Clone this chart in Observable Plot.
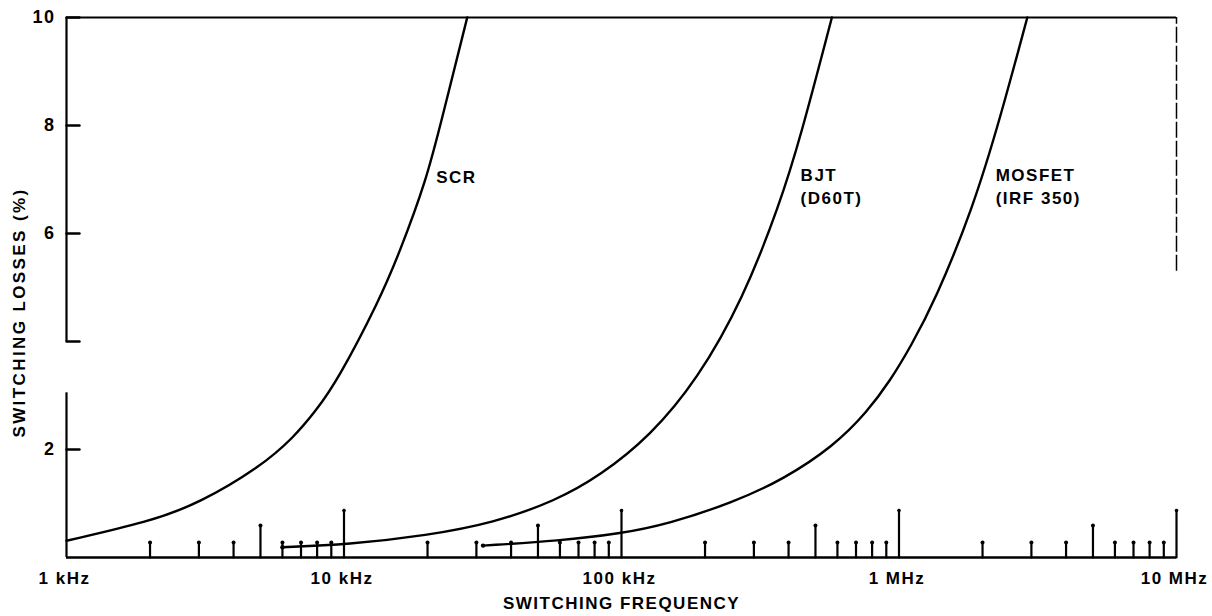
<!DOCTYPE html>
<html>
<head>
<meta charset="utf-8">
<script src="https://cdn.jsdelivr.net/npm/d3@7"></script>
<script src="https://cdn.jsdelivr.net/npm/@observablehq/plot@0.6"></script>
<style>
  html, body { margin: 0; padding: 0; background: #fff; }
  .ytitle text { letter-spacing: 2.4px; }
</style>
</head>
<body>
<div id="chart"></div>
<script>
// ---- data ----
const scrFreq = [1000, 1980, 3000, 5000, 6580, 7930, 9480, 13400, 15800, 19800, 22600, 27800];
const scrLoss = [0.31, 0.66, 1.00, 1.68, 2.22, 2.72, 3.28, 4.76, 5.63, 6.98, 8.15, 10.0];

const bjtFreq = [6000, 10300, 20000, 34500, 58000, 84000, 127000, 188000, 274000, 372000, 440000, 573000];
const bjtLoss = [0.19, 0.24, 0.41, 0.64, 1.05, 1.52, 2.25, 3.30, 4.78, 6.55, 7.75, 10.0];

const mosFreq = [31700, 60000, 98600, 147000, 253000, 384000, 581000, 769000, 931000, 1100000, 1350000, 1850000, 2320000, 2900000];
const mosLoss = [0.22, 0.31, 0.44, 0.62, 1.02, 1.45, 2.06, 2.70, 3.28, 3.90, 4.76, 6.48, 8.15, 10.0];

const seriesNames = ["SCR", "BJT\n(D60T)", "MOSFET\n(IRF 350)"];
const labelFreq = [21500, 442000, 2230000];
const labelLoss = [7.06, 6.89, 6.89];

const xTickValues = [1e3, 1e4, 1e5, 1e6, 1e7];
const xTickLabels = ["1 kHz", "10 kHz", "100 kHz", "1 MHz", "10 MHz"];
const yTickValues = [2, 4, 6, 8, 10];
const yTickLabels = [2, 6, 8, 10];
const yAxisFrom = [0, 4];
const yAxisTo = [3.05, 10];

const xTitle = "SWITCHING FREQUENCY";
const yTitle = "SWITCHING LOSSES (%)";

// ---- build tables ----
const curves = [
  ...scrFreq.map((f, i) => ({series: "SCR", f, v: scrLoss[i]})),
  ...bjtFreq.map((f, i) => ({series: "BJT", f, v: bjtLoss[i]})),
  ...mosFreq.map((f, i) => ({series: "MOSFET", f, v: mosLoss[i]}))
];
const labels = seriesNames.map((t, i) => ({t, f: labelFreq[i], v: labelLoss[i]}));
const yAxisSegs = yAxisFrom.map((a, i) => ({a, b: yAxisTo[i]}));

// log minor ticks across the decades
const minor = [];
for (let e = 3; e < 7; e++) {
  for (let m = 2; m <= 10; m++) minor.push({f: m * Math.pow(10, e), m});
}
const majors = minor.filter(d => d.m === 10);
const fives = minor.filter(d => d.m === 5);
const smalls = minor.filter(d => d.m !== 10 && d.m !== 5);

const tickShape = {
  draw(context, l) { context.moveTo(0, 0); context.lineTo(0, -l); }
};

const fs = 17;

const chart = Plot.plot({
  width: 1212,
  height: 616,
  marginLeft: 66,
  marginRight: 36,
  marginTop: 17,
  marginBottom: 59,
  x: {type: "log", domain: [1e3, 1e7], axis: null},
  y: {domain: [0, 10], axis: null},
  style: {
    fontFamily: "'Liberation Sans', Arial, sans-serif",
    fontWeight: "bold",
    letterSpacing: "1.5px",
    background: "white",
    color: "black"
  },
  marks: [
    // frame
    Plot.ruleY([0], {x1: 1e3, x2: 1e7, strokeWidth: 2.6}),
    Plot.ruleY([10], {x1: 1e3, x2: 1e7, strokeWidth: 2.2}),
    Plot.ruleX([1e7], {y1: 5.3, y2: 10, strokeWidth: 1.5, strokeDasharray: "16,3"}),
    Plot.ruleX(yAxisSegs, {x: 1e3, y1: "a", y2: "b", strokeWidth: 2.2}),
    // y ticks (inward)
    Plot.vector(yTickValues, {x: 1e3, y: d => d, length: 13, rotate: 90, anchor: "start", shape: tickShape, strokeWidth: 2.4}),
    Plot.text(yTickLabels, {x: 1e3, y: d => d, text: d => String(d), textAnchor: "end", dx: -11, fontSize: 18}),
    // x ticks (inward, upwards)
    Plot.vector(majors, {x: "f", y: 0, length: 47, anchor: "start", shape: tickShape, strokeWidth: 2.2}),
    Plot.vector(fives, {x: "f", y: 0, length: 32, anchor: "start", shape: tickShape, strokeWidth: 2.2}),
    Plot.vector(smalls, {x: "f", y: 0, length: 15, anchor: "start", shape: tickShape, strokeWidth: 2.2}),
    Plot.dot(majors, {x: "f", y: 0, dy: -47, r: 1.8, fill: "black"}),
    Plot.dot(fives, {x: "f", y: 0, dy: -32, r: 2, fill: "black"}),
    Plot.dot(smalls, {x: "f", y: 0, dy: -15, r: 2, fill: "black"}),
    Plot.text(xTickValues, {x: d => d, y: 0, text: (d, i) => xTickLabels[i], dy: 21, dx: -2, fontSize: fs}),
    // curves
    Plot.line(curves, {x: "f", y: "v", z: "series", curve: "basis", stroke: "black", strokeWidth: 2.4}),
    Plot.dot([{f: bjtFreq[0], v: bjtLoss[0]}, {f: mosFreq[0], v: mosLoss[0]}], {x: "f", y: "v", r: 2.2, fill: "black"}),
    // curve labels
    Plot.text(labels, {x: "f", y: "v", text: "t", textAnchor: "start", lineAnchor: "middle", lineHeight: 1.3, fontSize: fs}),
    // titles
    Plot.text([xTitle], {frameAnchor: "bottom", textAnchor: "middle", lineAnchor: "middle", dy: 46, fontSize: fs}),
    Plot.text([yTitle], {frameAnchor: "left", textAnchor: "middle", lineAnchor: "middle", dx: -47, dy: 25, rotate: -90, fontSize: fs, className: "ytitle"})
  ]
});
document.getElementById("chart").appendChild(chart);
</script>
</body>
</html>
